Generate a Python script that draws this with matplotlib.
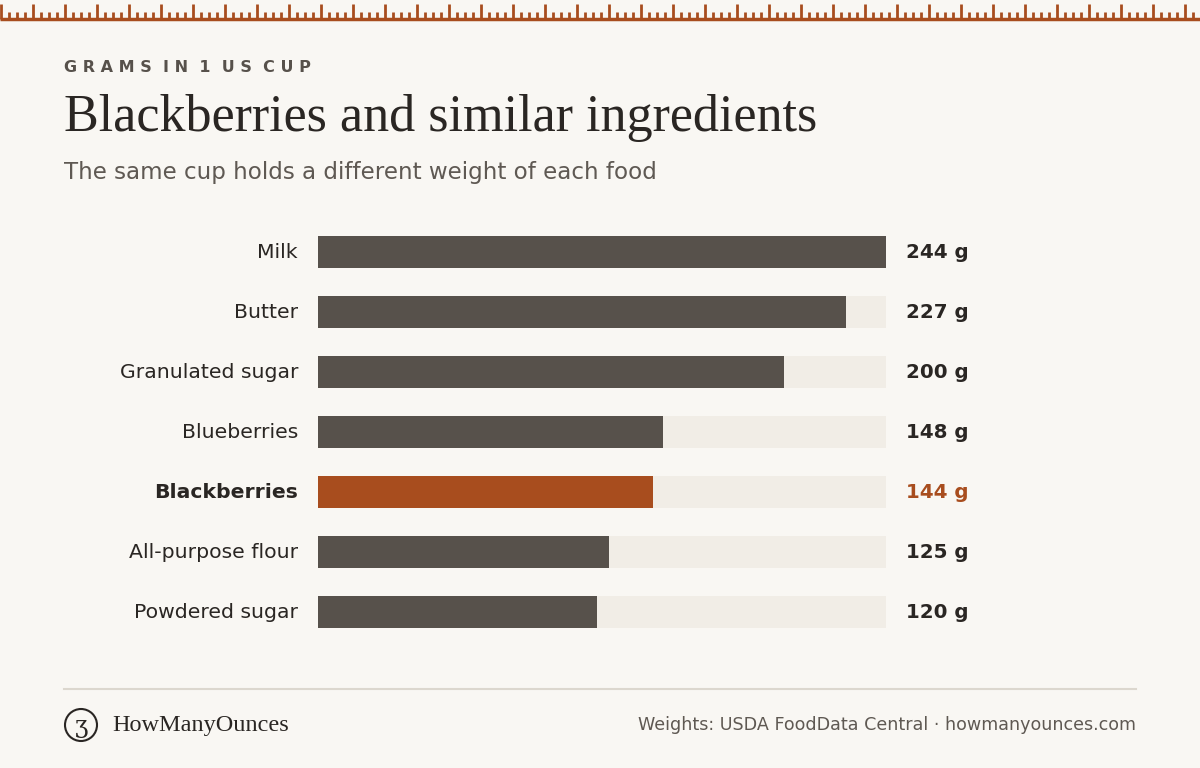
import matplotlib
matplotlib.use("Agg")
import matplotlib.pyplot as plt
from matplotlib.patches import Circle

categories = ["Milk", "Butter", "Granulated sugar", "Blueberries", "Blackberries", "All-purpose flour", "Powdered sugar"]
grams = [244, 227, 200, 148, 144, 125, 120]
highlight = "Blackberries"

BG = "#f9f7f3"; DARK = "#57514b"; ACC = "#a84d1e"; TRACK = "#f1ede6"; TXT = "#2a2623"
W, H = 1200, 768
fig = plt.figure(figsize=(12, 7.68), dpi=100, facecolor=BG)

ov = fig.add_axes([0, 0, 1, 1]); ov.set_xlim(0, W); ov.set_ylim(H, 0); ov.axis("off")
ov.plot([0, W], [19, 19], color=ACC, lw=2.5, solid_capstyle="butt")
for x in range(0, W + 1, 8):
    top = 4 if x % 32 == 0 else 12
    ov.plot([x + 1, x + 1], [top, 19], color=ACC, lw=2, solid_capstyle="butt")

ov.text(64, 68, "G R A M S  I N  1  U S  C U P", fontsize=11.5, color="#57514b",
        fontweight="bold", va="center")
ov.text(64, 118, "Blackberries and similar ingredients", fontsize=37.5, color=TXT,
        va="center", family="Liberation Serif")
ov.text(64, 173, "The same cup holds a different weight of each food", fontsize=16.6,
        color="#5f5953", va="center")
ov.plot([64, 1136], [689, 689], color="#dcd7ce", lw=1.5)
ov.add_patch(Circle((81, 725), 16, fill=False, ec=TXT, lw=1.5))
ov.text(81, 726, "ʒ", fontsize=17, ha="center", va="center", color=TXT, family="DejaVu Serif")
ov.text(112, 726, "HowManyOunces", fontsize=17.5, va="center", color=TXT, family="Liberation Serif")
ov.text(1136, 725, "Weights: USDA FoodData Central · howmanyounces.com", fontsize=12.6,
        ha="right", va="center", color="#5f5953")

top_px, bot_px = 222, 642
ax = fig.add_axes([318 / W, 1 - bot_px / H, (886 - 318) / W, (bot_px - top_px) / H])
ax.set_facecolor("none")
n = len(categories)
ys = list(range(n))
ax.set_xlim(0, max(grams)); ax.set_ylim(n - 0.5, -0.5)
ax.barh(ys, [max(grams)] * n, height=0.533, color=TRACK)
for y, c, g in zip(ys, categories, grams):
    col = ACC if c == highlight else DARK
    ax.barh(y, g, height=0.533, color=col)
    ax.text(-20 * max(grams) / 568, y, c, ha="right", va="center", fontsize=14.7, color=TXT,
            fontweight="bold" if c == highlight else "normal")
    ax.text(max(grams) + 20 * max(grams) / 568, y, f"{g} g", ha="left", va="center",
            fontsize=14.3, fontweight="bold", color=ACC if c == highlight else TXT)
ax.axis("off")
fig.savefig("out.png", dpi=100, facecolor=BG)
